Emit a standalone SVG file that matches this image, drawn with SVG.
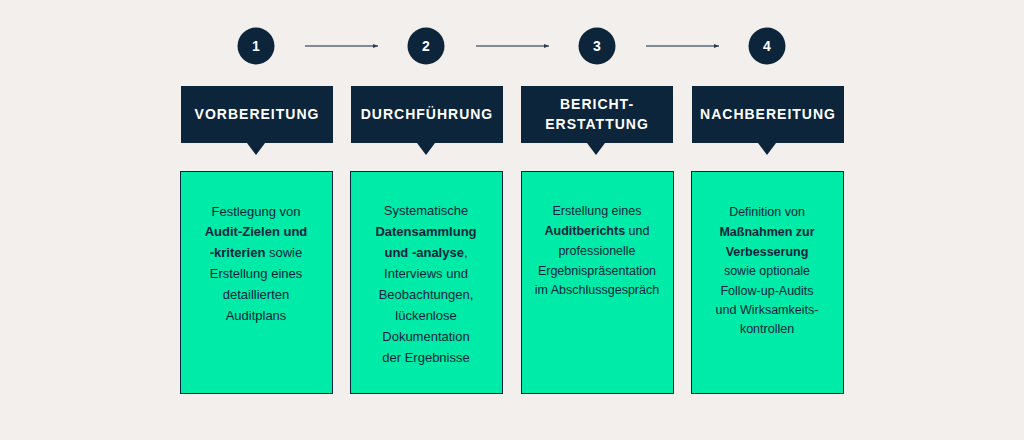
<svg xmlns="http://www.w3.org/2000/svg" width="1024" height="440" viewBox="0 0 1024 440">
<defs>
<style>
.c{fill:#0c253b}
.n{fill:#fff;font:bold 14px "Liberation Sans",Arial,sans-serif;text-anchor:middle}
.h{fill:#0c253b}
.ht{fill:#fff;font:bold 14px "Liberation Sans",Arial,sans-serif;text-anchor:middle;letter-spacing:1px}
.b{fill:#00eaa8;stroke:#0c253b;stroke-width:1}
.t{fill:#0c253b;font:13px "Liberation Sans",Arial,sans-serif;text-anchor:middle}
.s{fill:#0c253b;font:12.5px "Liberation Sans",Arial,sans-serif;text-anchor:middle}
.bd{font-weight:bold}
.a{stroke:#5d6a79;stroke-width:1.3;fill:none;marker-end:url(#m)}
</style>
<marker id="m" markerWidth="6" markerHeight="6" refX="5" refY="3" orient="auto" markerUnits="userSpaceOnUse"><path d="M0,1 L5,3 L0,5 Z" fill="#2a3b4d"/></marker>
</defs>
<rect width="1024" height="440" fill="#f2efec"/>
<g id="connectors">
<line class="a" x1="305" y1="46" x2="378" y2="46"/>
<line class="a" x1="476" y1="46" x2="549" y2="46"/>
<line class="a" x1="646" y1="46" x2="719" y2="46"/>
</g>
<g id="node1">
<circle class="c" cx="256" cy="46" r="18.5"/><text class="n" x="256" y="51">1</text>
<path class="h" d="M181,86 h152 v57 h-68 l-9,12 l-9,-12 h-66 z"/>
<text class="ht" x="257" y="119">VORBEREITUNG</text>
<rect class="b" x="180.5" y="171.5" width="152" height="222"/>
<text class="t"><tspan x="256" y="216">Festlegung von</tspan><tspan x="256" y="236" class="bd">Audit-Zielen und</tspan><tspan x="256" y="257"><tspan class="bd">-kriterien</tspan> sowie</tspan><tspan x="256" y="278">Erstellung eines</tspan><tspan x="256" y="299">detaillierten</tspan><tspan x="256" y="320">Auditplans</tspan></text>
</g>
<g id="node2">
<circle class="c" cx="426" cy="46" r="18.5"/><text class="n" x="426" y="51">2</text>
<path class="h" d="M351,86 h152 v57 h-68 l-9,12 l-9,-12 h-66 z"/>
<text class="ht" x="427" y="119">DURCHFÜHRUNG</text>
<rect class="b" x="350.5" y="171.5" width="152" height="222"/>
<text class="t"><tspan x="426" y="215">Systematische</tspan><tspan x="426" y="236" class="bd">Datensammlung</tspan><tspan x="426" y="257"><tspan class="bd">und -analyse</tspan>,</tspan><tspan x="426" y="278">Interviews und</tspan><tspan x="426" y="299">Beobachtungen,</tspan><tspan x="426" y="320">lückenlose</tspan><tspan x="426" y="341">Dokumentation</tspan><tspan x="426" y="362">der Ergebnisse</tspan></text>
</g>
<g id="node3">
<circle class="c" cx="597" cy="46" r="18.5"/><text class="n" x="597" y="51">3</text>
<path class="h" d="M521,86 h152 v57 h-68 l-9,12 l-9,-12 h-66 z"/>
<text class="ht"><tspan x="597" y="109">BERICHT-</tspan><tspan x="597" y="129">ERSTATTUNG</tspan></text>
<rect class="b" x="521.5" y="171.5" width="152" height="222"/>
<text class="s"><tspan x="597" y="215">Erstellung eines</tspan><tspan x="597" y="235"><tspan class="bd">Auditberichts</tspan> und</tspan><tspan x="597" y="255">professionelle</tspan><tspan x="597" y="275">Ergebnispräsentation</tspan><tspan x="597" y="294">im Abschlussgespräch</tspan></text>
</g>
<g id="node4">
<circle class="c" cx="767" cy="46" r="18.5"/><text class="n" x="767" y="51">4</text>
<path class="h" d="M692,86 h152 v57 h-68 l-9,12 l-9,-12 h-66 z"/>
<text class="ht" x="768" y="119">NACHBEREITUNG</text>
<rect class="b" x="691.5" y="171.5" width="152" height="222"/>
<text class="s"><tspan x="767" y="216">Definition von</tspan><tspan x="767" y="236" class="bd">Maßnahmen zur</tspan><tspan x="767" y="256" class="bd">Verbesserung</tspan><tspan x="767" y="275">sowie optionale</tspan><tspan x="767" y="295">Follow-up-Audits</tspan><tspan x="767" y="314">und Wirksamkeits-</tspan><tspan x="767" y="333">kontrollen</tspan></text>
</g>
</svg>
